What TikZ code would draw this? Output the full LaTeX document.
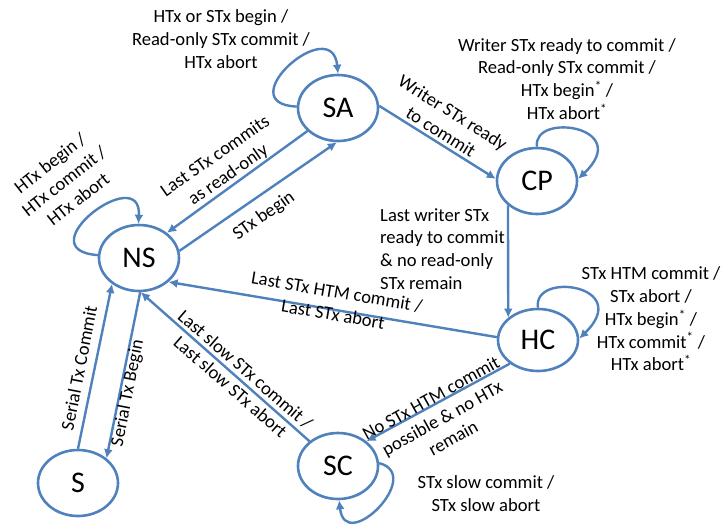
\documentclass[tikz,border=0pt]{standalone}
\usepackage{fontspec}
\setmainfont{Carlito}
\usetikzlibrary{shapes.geometric,arrows.meta}
\definecolor{edgeblue}{HTML}{4F81BD}
\begin{document}
\begin{tikzpicture}[x=1pt,y=-1pt,
 state/.style={ellipse,draw=edgeblue,line width=2.6pt,minimum width=80pt,minimum height=66pt,inner sep=0pt,font=\fontsize{30}{34}\selectfont},
 arr/.style={draw=edgeblue,line width=2.4pt,-{Latex[length=9pt,width=9pt]}},
 lbl/.style={font=\fontsize{18.6}{22.8}\selectfont,align=center,inner sep=0pt}]
\useasboundingbox[fill=white] (0,0) rectangle (725,527);
% states
\node[state] (SA) at (338,108) {SA};
\node[state] (CP) at (537,181) {CP};
\node[state,minimum height=62pt] (HC) at (538,340) {HC};
\node[state] (NS) at (139,258) {NS};
\node[state] (S) at (78,483) {S};
\node[state] (SC) at (338,466) {SC};
% self loops
\draw[arr] (SA.178) .. controls (228,104) and (332,12) .. (SA.90);
\draw[arr] (CP.90) .. controls (532,112) and (634,126) .. (CP.3);
\draw[arr] (HC.90) .. controls (532,271) and (634,285) .. (HC.2);
\draw[arr] (NS.176) .. controls (25,250) and (142,161) .. (NS.91);
\draw[arr] (SC.4) .. controls (425,475) and (345,555) .. (SC.-88);
% transitions
\draw[arr] (NS.10) -- (SA.-92);
\draw[arr] (SA.217) -- (NS.42);
\draw[arr] (SA.3) -- (CP.177);
\draw[arr] (CP.220) -- (HC.143);
\draw[arr] (HC.176) -- (NS.-39);
\draw[arr] (HC.220) -- (SC.41);
\draw[arr] (SC.139) -- (NS.-87);
\draw[arr] (NS.-88) -- (S.41);
\draw[arr] (S.90) -- (NS.-136);
% loop labels
\node[lbl] (lSA) at (221,39) {HTx or STx begin /\\Read-only STx commit /\\HTx abort};
\node[lbl] (lCP) at (567,79) {Writer STx ready to commit /\\Read-only STx commit /\\HTx begin\textsuperscript{*} /\\HTx abort\textsuperscript{*}};
\node[lbl] (lHC) at (651,319) {STx HTM commit /\\STx abort /\\HTx begin\textsuperscript{*} /\\HTx commit\textsuperscript{*} /\\HTx abort\textsuperscript{*}};
\node[lbl] (lSC) at (486,494) {STx slow commit /\\STx slow abort};
\node[lbl,rotate=38] (lNS) at (64,181) {HTx begin /\\HTx commit /\\HTx abort};
% edge labels
\node[lbl,rotate=35] (lSAtoNS) at (222,166) {Last STx commits\\as read-only};
\node[lbl,rotate=35] (lNStoSA) at (264,216) {STx begin};
\node[lbl,rotate=-32] (lSAtoCP) at (447,122) {Writer STx ready\\to commit};
\node[lbl,align=left,anchor=west] (lCPtoHC) at (380,249) {Last writer STx\\ready to commit\\\& no read-only\\STx remain};
\node[lbl,rotate=-9.6] (lHCtoNS) at (335,303) {Last STx HTM commit /\\Last STx abort};
\node[lbl,rotate=-41] (lSCtoNS) at (238,378) {Last slow STx commit /\\Last slow STx abort};
\node[lbl,rotate=29] (lHCtoSC) at (442,418) {No STx HTM commit\\possible \& no HTx\\remain};
\node[lbl,rotate=79] (lNStoS) at (128,393) {Serial Tx Begin};
\node[lbl,rotate=79] (lStoNS) at (79,368) {Serial Tx Commit};
\end{tikzpicture}
\end{document}
